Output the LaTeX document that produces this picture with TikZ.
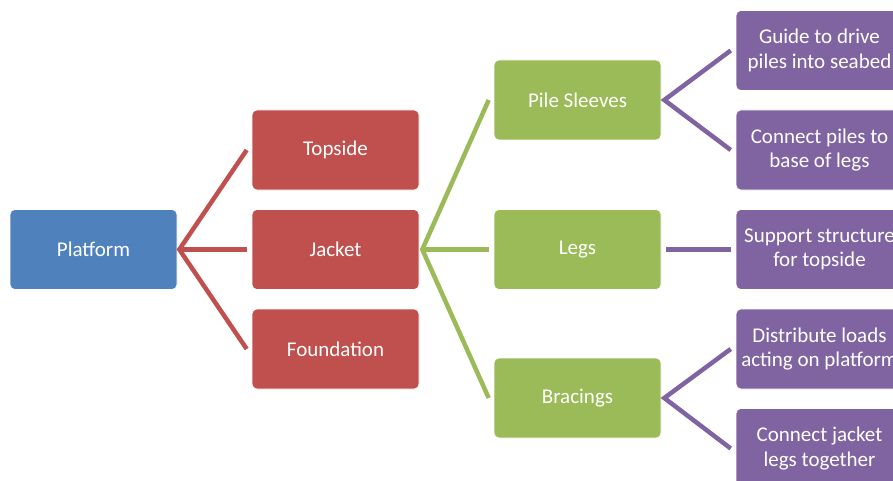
\documentclass[tikz,border=0pt]{standalone}
\usepackage{fontspec}
\setmainfont{Carlito}
\definecolor{cblue}{HTML}{4F81BD}
\definecolor{cred}{HTML}{C0504D}
\definecolor{cgreen}{HTML}{9BBB59}
\definecolor{cpurple}{HTML}{8064A2}
\tikzset{
  box/.style={rounded corners=5pt, draw=white, line width=0.6pt, text=white,
    minimum width=167pt, minimum height=80pt, inner sep=1pt, align=center,
    font=\fontsize{21}{24.5}\selectfont},
  bluebox/.style={box, fill=cblue},
  redbox/.style={box, fill=cred},
  greenbox/.style={box, fill=cgreen},
  purplebox/.style={box, fill=cpurple},
  link/.style={line width=4.5pt, line cap=butt, line join=miter},
}
\begin{document}
\begin{tikzpicture}[x=1pt,y=-1pt]
\useasboundingbox (0,0) rectangle (893,481);
\clip (0,0) rectangle (893,481);
\node[bluebox] (plat) at (93.5,249.5) {Platform};
\node[redbox] (top) at (335.5,150) {Topside};
\node[redbox] (jack) at (335.5,249.5) {Jacket};
\node[redbox] (found) at (335.5,349) {Foundation};
\node[greenbox] (pile) at (577.5,100) {Pile Sleeves};
\node[greenbox] (legs) at (577.5,249.5) {Legs};
\node[greenbox] (brac) at (577.5,398) {Bracings};
\node[purplebox] (guide) at (819.5,50.5) {Guide to drive\\piles into seabed};
\node[purplebox] (conn) at (819.5,150) {Connect piles to\\base of legs};
\node[purplebox] (supp) at (819.5,249.5) {Support structure\\for topside};
\node[purplebox] (dist) at (819.5,349) {Distribute loads\\acting on platform};
\node[purplebox] (cjl) at (819.5,448.5) {Connect jacket\\legs together};
% red connectors
\coordinate (h1) at ([xshift=2pt]plat.east);
\draw[link,cred] ([xshift=-5pt]top.west) -- (h1) -- ([xshift=-5pt]found.west);
\draw[link,cred] (h1) -- ([xshift=-5pt]jack.west);
% green connectors
\coordinate (h2) at ([xshift=3pt]jack.east);
\draw[link,cgreen] ([xshift=-5pt]pile.west) -- (h2) -- ([xshift=-5pt]brac.west);
\draw[link,cgreen] (h2) -- ([xshift=-5pt]legs.west);
% purple connectors
\coordinate (h3) at ([xshift=3pt]pile.east);
\draw[link,cpurple] ([xshift=-5pt]guide.west) -- (h3) -- ([xshift=-5pt]conn.west);
\draw[link,cpurple] ([xshift=5pt]legs.east) -- ([xshift=-5pt]supp.west);
\coordinate (h4) at ([xshift=3pt]brac.east);
\draw[link,cpurple] ([xshift=-5pt]dist.west) -- (h4) -- ([xshift=-5pt]cjl.west);
\end{tikzpicture}
\end{document}
